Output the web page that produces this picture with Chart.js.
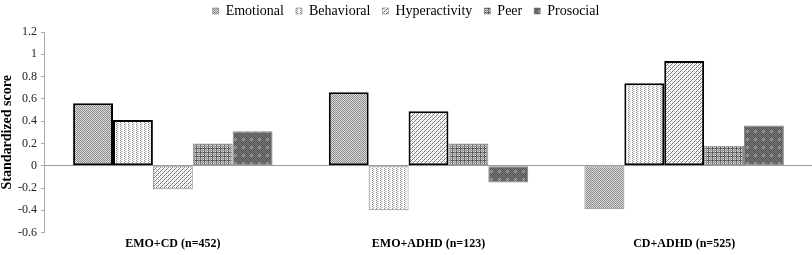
<!DOCTYPE html>
<html>
<head>
<meta charset="utf-8">
<script src="https://cdn.jsdelivr.net/npm/chart.js@4.4.1/dist/chart.umd.min.js"></script>
<style>
  html, body { margin: 0; padding: 0; background: #fff; }
  #wrap { width: 812px; height: 255px; }
</style>
</head>
<body>
<div id="wrap"><canvas id="chart"></canvas></div>
<script>
// Данные графика
const groups = ['EMO+CD (n=452)', 'EMO+ADHD (n=123)', 'CD+ADHD (n=525)'];
const seriesNames = ['Emotional', 'Behavioral', 'Hyperactivity', 'Peer', 'Prosocial'];
const emotional = [0.56, 0.66, -0.39];
const behavioral = [0.41, -0.40, 0.74];
const hyperactivity = [-0.21, 0.49, 0.94];
const peer = [0.20, 0.20, 0.18];
const prosocial = [0.31, -0.15, 0.36];
// значимые столбцы (толстая чёрная рамка)
const emotionalBold = [true, true, false];
const behavioralBold = [true, false, true];
const hyperactivityBold = [false, true, true];
const peerBold = [false, false, false];
const prosocialBold = [false, false, false];
const yTicks = [-0.6, -0.4, -0.2, 0, 0.2, 0.4, 0.6, 0.8, 1, 1.2];

// Штриховки
function makePattern(size, draw) {
    const c = document.createElement('canvas');
    c.width = size; c.height = size;
    const g = c.getContext('2d');
    draw(g);
    return g.createPattern(c, 'repeat');
}
function px(g, x, y, col) { g.fillStyle = col; g.fillRect(x, y, 1, 1); }

const patEmotional = makePattern(2, g => {
    g.fillStyle = '#dcdcdc'; g.fillRect(0, 0, 2, 2);
    px(g, 0, 0, '#8a8a8a'); px(g, 1, 1, '#8a8a8a');
});
const patBehavioral = makePattern(4, g => {
    g.fillStyle = '#fff'; g.fillRect(0, 0, 4, 4);
    px(g, 0, 0, '#8a8a8a'); px(g, 1, 1, '#b0b0b0'); px(g, 0, 2, '#8a8a8a'); px(g, 1, 3, '#b0b0b0');
    px(g, 2, 1, '#e0e0e0'); px(g, 2, 3, '#e0e0e0');
});
const patHyper = makePattern(4, g => {
    g.fillStyle = '#fff'; g.fillRect(0, 0, 4, 4);
    px(g, 0, 3, '#666'); px(g, 1, 2, '#888'); px(g, 2, 1, '#666'); px(g, 3, 0, '#888');
    px(g, 2, 3, '#c0c0c0'); px(g, 0, 1, '#c0c0c0');
});
const patPeer = makePattern(4, g => {
    g.fillStyle = '#dadada'; g.fillRect(0, 0, 4, 4);
    g.fillStyle = '#555'; g.fillRect(0, 0, 1, 4); g.fillRect(0, 0, 4, 1);
    g.fillStyle = '#999'; g.fillRect(2, 0, 1, 4); g.fillRect(0, 2, 4, 1);
});
const patProsocial = makePattern(8, g => {
    g.fillStyle = '#555'; g.fillRect(0, 0, 8, 8);
    for (let y = 0; y < 8; y++) for (let x = 0; x < 8; x++) {
        if ((x + y) % 2 === 0) px(g, x, y, '#777');
    }
    g.fillStyle = '#8e8e8e'; g.fillRect(2, 2, 3, 3);
});

const patterns = [patEmotional, patBehavioral, patHyper, patPeer, patProsocial];
const values = [emotional, behavioral, hyperactivity, peer, prosocial];
const bolds = [emotionalBold, behavioralBold, hyperactivityBold, peerBold, prosocialBold];

const datasets = seriesNames.map((name, i) => ({
    label: name,
    data: values[i],
    backgroundColor: patterns[i],
    borderColor: bolds[i].map(b => b ? '#000' : '#888'),
    borderWidth: bolds[i].map(b => b ? 2 : 1),
    borderSkipped: false,
    categoryPercentage: 0.78,
    barPercentage: 1.0
}));

const serif = "'Liberation Serif', 'Times New Roman', serif";

// легенду поднимаем выше, не меняя область графика
const legendShift = {
    id: 'legendShift',
    afterLayout(chart) {
        chart.legend.top -= 8;
        chart.legend.bottom -= 8;
    }
};

new Chart(document.getElementById('chart'), {
    type: 'bar',
    data: { labels: groups, datasets: datasets },
    plugins: [legendShift],
    options: {
        responsive: true,
        maintainAspectRatio: false,
        animation: false,
        layout: { padding: { left: 0, right: 0, top: 0, bottom: 0 } },
        plugins: {
            tooltip: { enabled: false },
            legend: {
                position: 'top',
                maxHeight: 32,
                labels: {
                    font: { family: serif, size: 14 },
                    color: '#000',
                    boxWidth: 6,
                    boxHeight: 6,
                    padding: 12,
                    generateLabels: chart => chart.data.datasets.map((ds, i) => ({
                        text: ds.label,
                        fillStyle: ds.backgroundColor,
                        strokeStyle: '#666',
                        lineWidth: 0.5,
                        datasetIndex: i
                    }))
                }
            }
        },
        scales: {
            x: {
                grid: { display: false, drawTicks: false, tickLength: 0 },
                border: { display: false },
                ticks: {
                    font: { family: serif, size: 12, weight: 'bold' },
                    color: '#000',
                    padding: 4
                }
            },
            y: {
                min: -0.6,
                max: 1.2,
                afterBuildTicks: axis => { axis.ticks = yTicks.map(v => ({ value: v })); },
                ticks: {
                    font: { family: serif, size: 12 },
                    color: '#222',
                    padding: 4,
                    callback: v => String(Math.round(v * 10) / 10)
                },
                grid: {
                    color: c => (c.tick && c.tick.value === 0) ? '#999' : 'transparent',
                    tickColor: '#aaa',
                    tickLength: 4,
                    lineWidth: 1
                },
                border: { display: true, color: '#aaa' },
                title: {
                    display: true,
                    text: 'Standardized score',
                    font: { family: serif, size: 14, weight: 'bold', lineHeight: 1 },
                    color: '#000',
                    padding: { top: 0, bottom: 0 }
                }
            }
        }
    }
});
</script>
</body>
</html>
